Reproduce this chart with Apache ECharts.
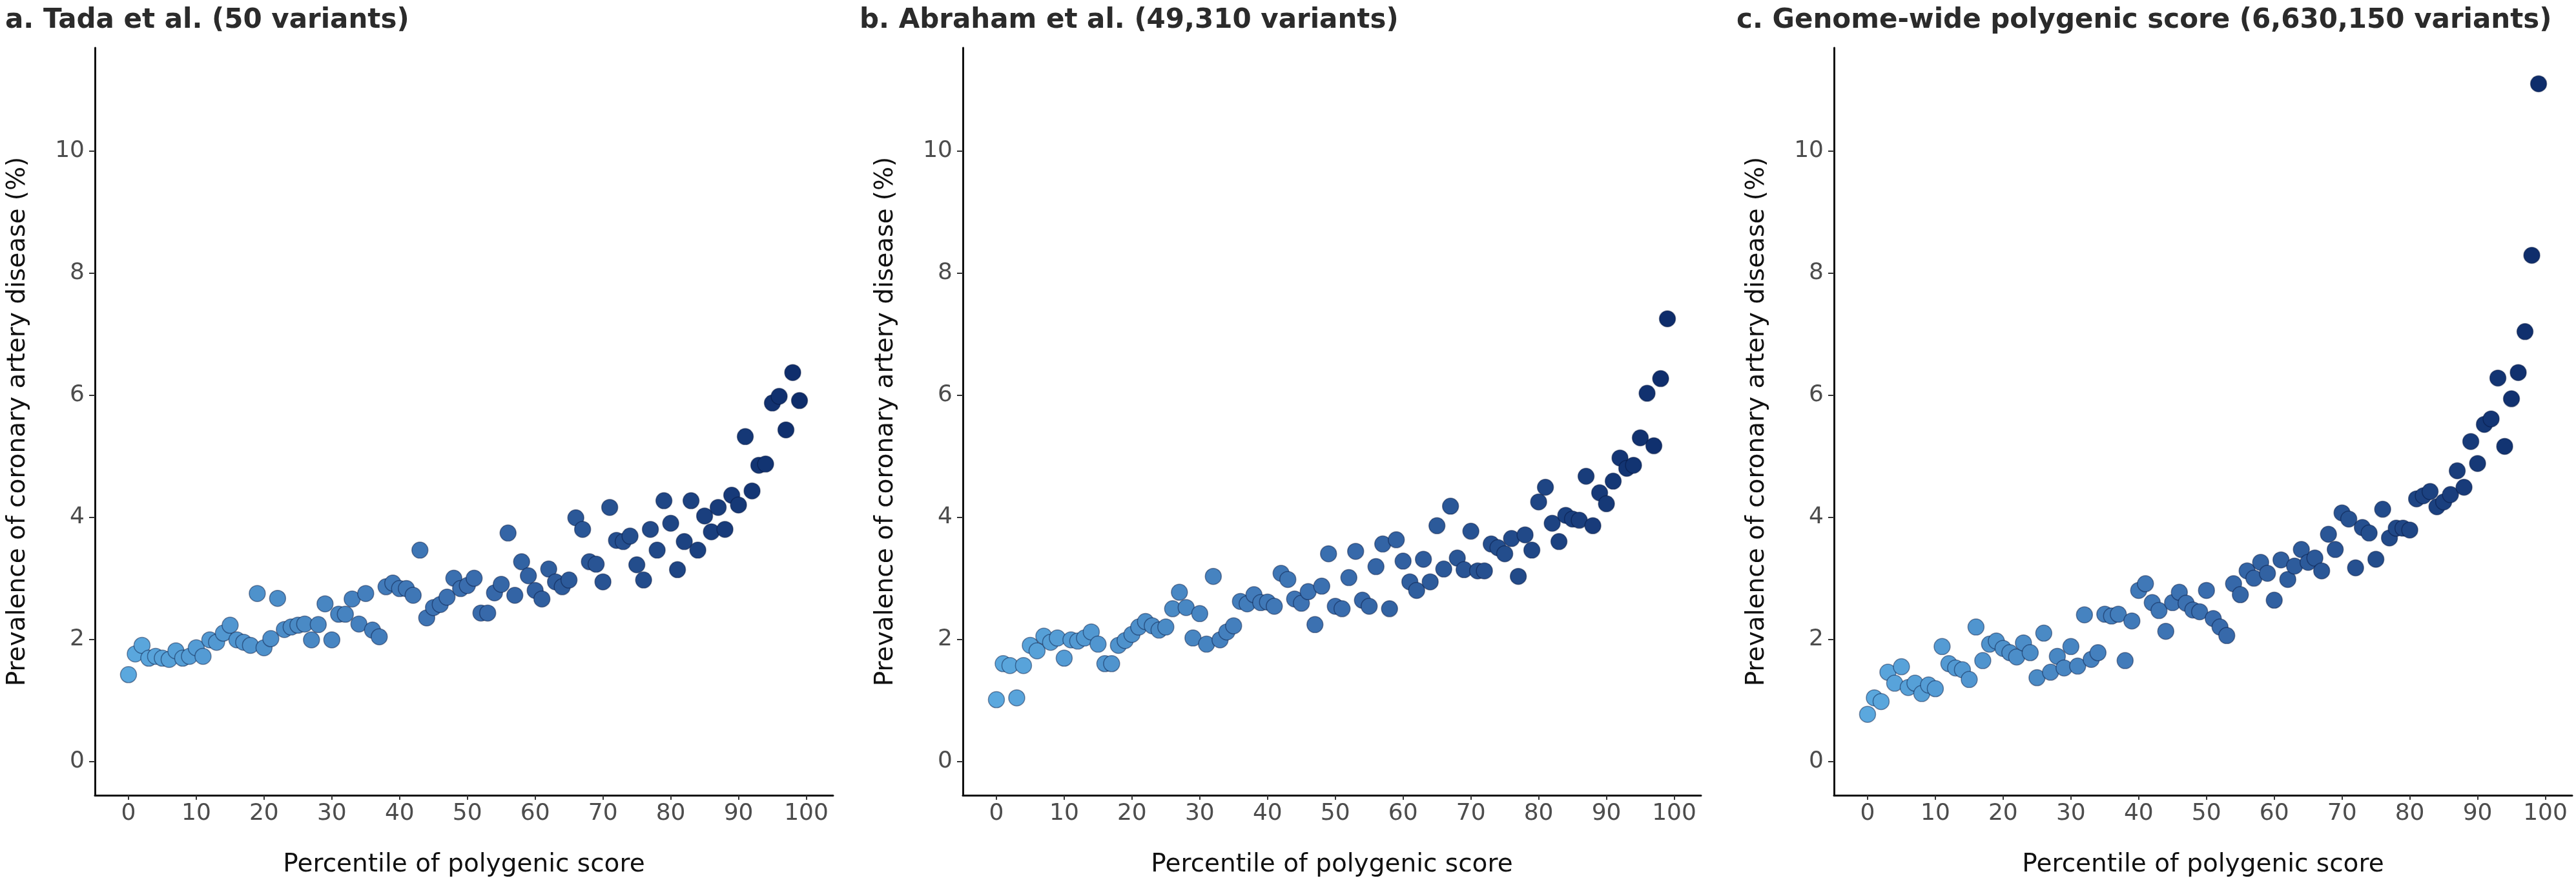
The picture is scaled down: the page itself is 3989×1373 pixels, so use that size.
<!DOCTYPE html>
<html>
<head>
<meta charset="utf-8">
<script src="https://cdn.jsdelivr.net/npm/echarts@6/dist/echarts.min.js"></script>
<style>
html,body{margin:0;padding:0;background:#fff;}
#chart{width:3989px;height:1373px;}
</style>
</head>
<body>
<div id="chart"></div>
<script>
// Percentile of polygenic score (x)
const percentiles = [0,1,2,3,4,5,6,7,8,9,10,11,12,13,14,15,16,17,18,19,20,21,22,23,24,25,26,27,28,29,30,31,32,33,34,35,36,37,38,39,40,41,42,43,44,45,46,47,48,49,50,51,52,53,54,55,56,57,58,59,60,61,62,63,64,65,66,67,68,69,70,71,72,73,74,75,76,77,78,79,80,81,82,83,84,85,86,87,88,89,90,91,92,93,94,95,96,97,98,99];

// a. Tada et al. (50 variants) - prevalence (%)
const tadaPrev = [1.42,1.76,1.90,1.69,1.72,1.69,1.67,1.81,1.69,1.72,
 1.86,1.72,1.99,1.95,2.10,2.23,1.99,1.95,1.90,2.75,
 1.86,2.01,2.67,2.16,2.20,2.23,2.25,1.99,2.24,2.58,
 1.99,2.41,2.41,2.66,2.25,2.75,2.15,2.04,2.86,2.92,
 2.83,2.83,2.72,3.46,2.35,2.52,2.57,2.69,3.00,2.83,
 2.88,3.00,2.43,2.43,2.76,2.90,3.74,2.72,3.27,3.04,
 2.80,2.66,3.15,2.94,2.86,2.97,3.99,3.80,3.27,3.23,
 2.94,4.16,3.62,3.60,3.69,3.22,2.97,3.80,3.46,4.27,
 3.90,3.14,3.60,4.27,3.46,4.02,3.76,4.16,3.80,4.36,
 4.20,5.32,4.43,4.85,4.87,5.87,5.98,5.43,6.37,5.91];

// b. Abraham et al. (49,310 variants)
const abrahamPrev = [1.01,1.60,1.57,1.04,1.57,1.90,1.81,2.05,1.95,2.02,
 1.69,1.99,1.97,2.02,2.12,1.92,1.60,1.60,1.90,1.98,
 2.08,2.20,2.29,2.22,2.15,2.20,2.50,2.77,2.52,2.02,
 2.42,1.92,3.03,1.99,2.12,2.22,2.62,2.58,2.73,2.60,
 2.61,2.54,3.08,2.98,2.66,2.59,2.78,2.24,2.87,3.40,
 2.54,2.50,3.01,3.44,2.64,2.54,3.19,3.56,2.50,3.63,
 3.28,2.94,2.80,3.31,2.94,3.86,3.15,4.18,3.33,3.14,
 3.77,3.12,3.12,3.56,3.50,3.40,3.65,3.03,3.71,3.46,
 4.25,4.49,3.90,3.60,4.03,3.97,3.95,4.67,3.86,4.40,
 4.22,4.59,4.97,4.80,4.85,5.30,6.03,5.17,6.27,7.25];

// c. Genome-wide polygenic score (6,630,150 variants)
const gwPrev = [0.77,1.04,0.98,1.46,1.28,1.55,1.21,1.28,1.11,1.25,
 1.19,1.88,1.60,1.53,1.50,1.34,2.20,1.65,1.92,1.97,
 1.85,1.78,1.71,1.94,1.78,1.37,2.10,1.46,1.72,1.53,
 1.88,1.56,2.40,1.67,1.78,2.41,2.38,2.41,1.65,2.30,
 2.80,2.91,2.60,2.47,2.13,2.60,2.77,2.59,2.48,2.45,
 2.80,2.34,2.20,2.06,2.91,2.73,3.12,3.00,3.26,3.08,
 2.64,3.30,2.98,3.20,3.47,3.26,3.33,3.12,3.72,3.47,
 4.07,3.97,3.17,3.83,3.74,3.31,4.13,3.66,3.82,3.82,
 3.79,4.30,4.35,4.42,4.17,4.25,4.37,4.76,4.49,5.24,
 4.88,5.52,5.61,6.28,5.16,5.94,6.37,7.04,8.29,11.10];

const panelTitles = ['a. Tada et al. (50 variants)', 'b. Abraham et al. (49,310 variants)', 'c. Genome-wide polygenic score (6,630,150 variants)'];
const xTicks = [0,10,20,30,40,50,60,70,80,90,100];
const yTicks = [0,2,4,6,8,10];
const xName = 'Percentile of polygenic score';
const yName = 'Prevalence of coronary artery disease (%)';

const FONT = 'DejaVu Sans';
const gridLefts = [147, 1491, 2840];
const titleLefts = [3, 1326, 2684];
const seriesData = [tadaPrev, abrahamPrev, gwPrev];

const grids = [], xAxes = [], yAxes = [], series = [], titles = [];
for (let i = 0; i < 3; i++) {
  grids.push({left: gridLefts[i], top: 74, width: 1143, height: 1157});
  titles.push({
    text: panelTitles[i], left: titleLefts[i], top: 6,
    textStyle: {fontFamily: FONT, fontWeight: 'bold', fontSize: 42, color: '#2B2B2B'}
  });
  xAxes.push({
    gridIndex: i, type: 'value', min: -4.95, max: 103.95,
    name: xName, nameLocation: 'middle', nameGap: 88,
    nameTextStyle: {fontFamily: FONT, fontSize: 39, color: '#111'},
    axisLine: {onZero: false, lineStyle: {color: '#111', width: 3}},
    axisTick: {show: true, length: 7, lineStyle: {color: '#333', width: 2}, customValues: xTicks},
    axisLabel: {fontFamily: FONT, fontSize: 36, color: '#4D4D4D', margin: 11, customValues: xTicks},
    splitLine: {show: false}
  });
  yAxes.push({
    gridIndex: i, type: 'value', min: -0.556, max: 11.69,
    name: yName, nameLocation: 'middle', nameGap: 100,
    nameTextStyle: {fontFamily: FONT, fontSize: 39, color: '#111'},
    axisLine: {onZero: false, lineStyle: {color: '#111', width: 3}},
    axisTick: {show: true, length: 9, lineStyle: {color: '#333', width: 2}, customValues: yTicks},
    axisLabel: {fontFamily: FONT, fontSize: 36, color: '#4D4D4D', margin: 16, customValues: yTicks},
    splitLine: {show: false}
  });
  series.push({
    type: 'scatter', xAxisIndex: i, yAxisIndex: i,
    symbolSize: 25,
    itemStyle: {opacity: 1, borderColor: 'rgba(5,20,60,0.45)', borderWidth: 1.5},
    data: percentiles.map((p, k) => [p, seriesData[i][k]])
  });
}

const chart = echarts.init(document.getElementById('chart'), null, {renderer: 'canvas'});
chart.setOption({
  backgroundColor: '#ffffff',
  animation: false,
  title: titles,
  grid: grids,
  xAxis: xAxes,
  yAxis: yAxes,
  visualMap: {
    show: false, type: 'continuous', dimension: 0, min: 0, max: 99,
    seriesIndex: [0, 1, 2],
    inRange: {color: ['#5BA8DE', '#3A6EAF', '#0E2D6B']}
  },
  series: series
});
</script>
</body>
</html>
